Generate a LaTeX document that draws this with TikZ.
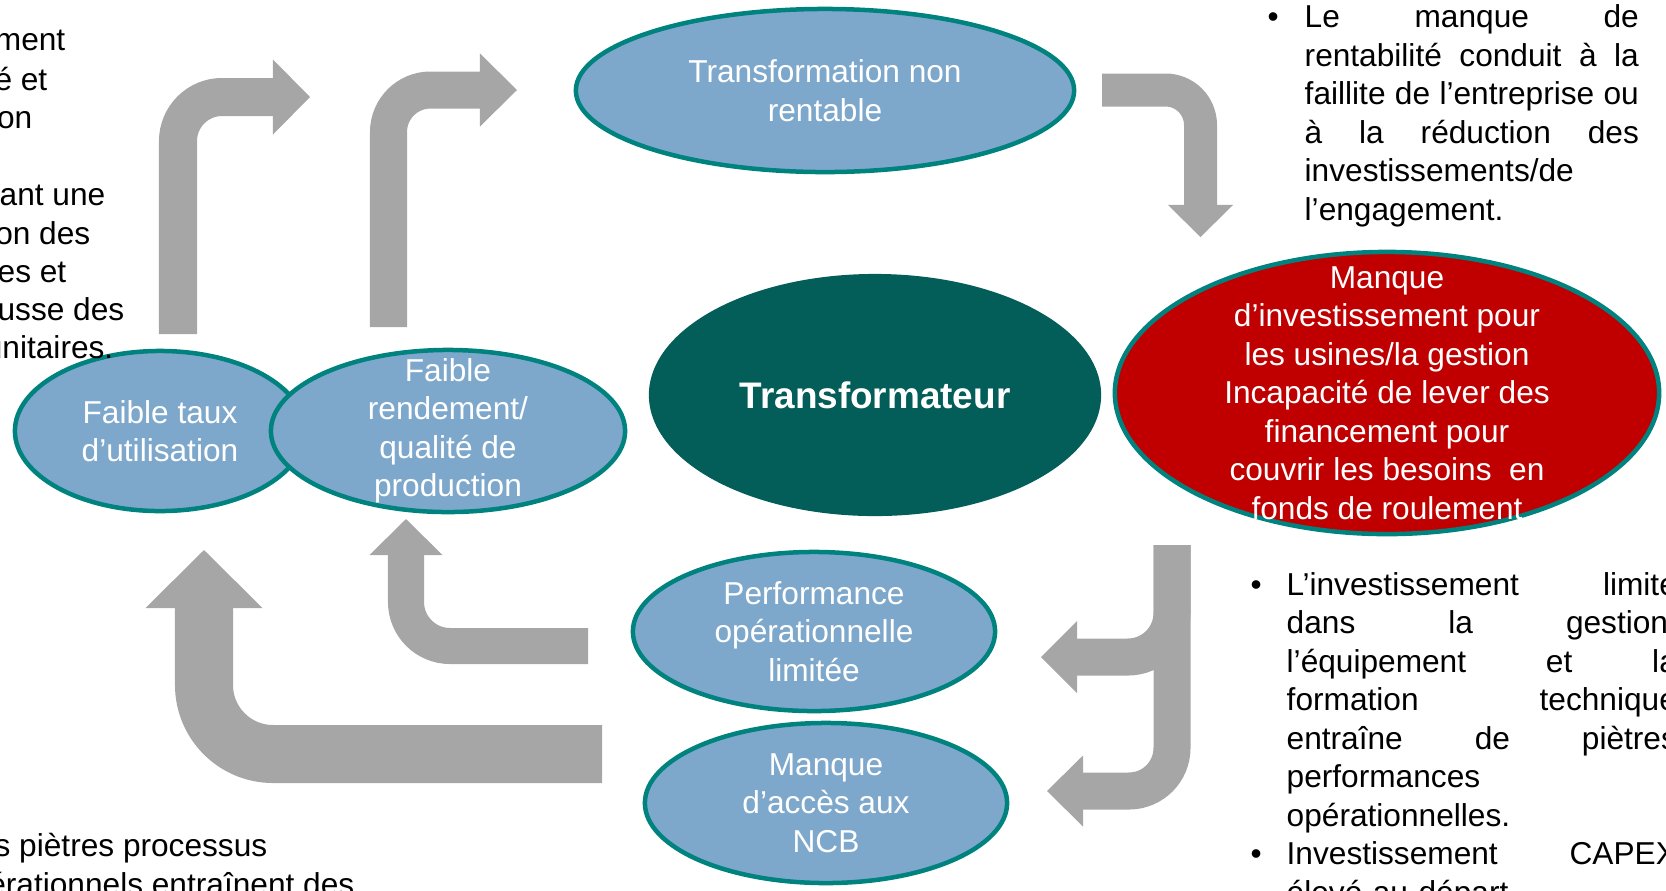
\documentclass[tikz,border=0pt]{standalone}
\usepackage{fontspec}
\setmainfont{Liberation Sans}
\usetikzlibrary{shapes.geometric,arrows.meta}

\definecolor{arrowgray}{HTML}{A6A6A6}
\definecolor{blobfill}{HTML}{7EA8CB}
\definecolor{blobline}{HTML}{00827F}
\definecolor{coreteal}{HTML}{035D59}
\definecolor{lackred}{HTML}{C00000}

% justified line: words spread with \hfill
\newcommand{\jline}[2][3.34cm]{\leavevmode\hbox to #1{#2}}
\newcommand{\bul}[1][0.26cm]{\leavevmode\llap{\textbullet\hspace{#1}}}

\begin{document}
\begin{tikzpicture}[x=0.01cm,y=-0.01cm,
  blob/.style={shape=ellipse, draw=blobline, line width=0.045cm, fill=blobfill, inner sep=0pt},
  blobtext/.style={text=white, align=center, inner sep=0pt, font=\fontsize{9}{10.95}\selectfont},
  bentarrow/.style={draw=arrowgray, line cap=butt},
  note/.style={text=black, align=left, inner sep=0pt, font=\fontsize{9}{10.95}\selectfont}]
\useasboundingbox (0,0) rectangle (1666,890);
\clip (0,0) rectangle (1666,890);

% arrow ends
\coordinate (a1s) at (178,334);  \coordinate (a1e) at (310,97);
\coordinate (a2s) at (388.5,327); \coordinate (a2e) at (517,90);
\coordinate (a3s) at (1102,90);  \coordinate (a3e) at (1200.5,237);
\coordinate (a4s) at (1172,545); \coordinate (a4u) at (1041,657); \coordinate (a4l) at (1047,791);
\coordinate (a5s) at (588,646);  \coordinate (a5e) at (406,519);
\coordinate (a6s) at (602,754);  \coordinate (a6e) at (204,550);

\draw[bentarrow, line width=0.38cm, rounded corners=0.44cm, -{Triangle[length=0.37cm,width=0.75cm,line width=0pt]}] (a1s) |- (a1e);
\draw[bentarrow, line width=0.37cm, rounded corners=0.42cm, -{Triangle[length=0.37cm,width=0.73cm,line width=0pt]}] (a2s) |- (a2e);
\draw[bentarrow, line width=0.33cm, rounded corners=0.35cm, -{Triangle[length=0.32cm,width=0.65cm,line width=0pt]}] (a3s) -| (a3e);
\draw[bentarrow, line width=0.37cm, rounded corners=0.44cm, -{Triangle[length=0.36cm,width=0.72cm,line width=0pt]}] (a4s) |- (a4u);
\draw[bentarrow, line width=0.37cm, rounded corners=0.43cm, -{Triangle[length=0.36cm,width=0.71cm,line width=0pt]}] (a4s) |- (a4l);
\draw[bentarrow, line width=0.36cm, rounded corners=0.44cm, -{Triangle[length=0.36cm,width=0.73cm,line width=0pt]}] (a5s) -| (a5e);
\draw[bentarrow, line width=0.58cm, rounded corners=0.69cm, -{Triangle[length=0.58cm,width=1.17cm,line width=0pt]}] (a6s) -| (a6e);

% ellipses
\node[blob, minimum width=2.90cm, minimum height=1.60cm] (taux) at (160,431) {};
\node[blob, minimum width=3.54cm, minimum height=1.62cm] (rend) at (448,431) {};
\node[blob, minimum width=4.98cm, minimum height=1.63cm] (nonrent) at (825,90.5) {};
\node[shape=ellipse, fill=coreteal, minimum width=4.52cm, minimum height=2.42cm, inner sep=0pt,
  text=white, font=\bfseries\fontsize{10.5}{12}\selectfont] (transf) at (875,395) {Transformateur};
\node[blob, fill=lackred, minimum width=5.44cm, minimum height=2.82cm] (invest) at (1387,393) {};
\node[blob, minimum width=3.62cm, minimum height=1.59cm] (perf) at (814,631.5) {};
\node[blob, minimum width=3.62cm, minimum height=1.60cm] (ncb) at (826,803) {};

\node[blobtext] (tauxtxt) at (taux) {Faible taux\\d’utilisation};
\node[blobtext] (rendtxt) at (rend) {Faible\\rendement/\\qualité de\\production};
\node[blobtext] (nonrenttxt) at (nonrent) {Transformation non\\rentable};
\node[blobtext] (investtxt) at (invest) {Manque\\d’investissement pour\\les usines/la gestion\\Incapacité de lever des\\financement pour\\couvrir les besoins\ \ en\\fonds de roulement};
\node[blobtext] (perftxt) at (perf) {Performance\\opérationnelle\\limitée};
\node[blobtext] (ncbtxt) at (ncb) {Manque\\d’accès aux\\NCB};

% side notes
\node[note, anchor=north west, text width=3.34cm] (rentab) at (1304,4) {\bul\jline{Le\hfill manque\hfill de}\\\jline{rentabilité\hfill conduit\hfill à\hfill la}\\\jline{faillite\hfill de\hfill l’entreprise\hfill ou}\\\jline{à\hfill la\hfill réduction\hfill des}\\investissements/de\\l’engagement.};
\node[note, anchor=north west, text width=3.90cm] (capex) at (1286,571) {\bul[0.25cm]\jline[3.90cm]{L’investissement\hfill limité}\\\jline[3.90cm]{dans\hfill la\hfill gestion,}\\\jline[3.90cm]{l’équipement\hfill et\hfill la}\\\jline[3.90cm]{formation\hfill technique}\\\jline[3.90cm]{entraîne\hfill de\hfill piètres}\\performances\\opérationnelles.\\\bul[0.25cm]\jline[3.90cm]{Investissement\hfill CAPEX}\\élevé au départ};

\foreach \yy/\xx/\frag in {39/66/ment, 79/48/é et, 117/33/on, 194/106/ant une, 233/91/on des, 271/67/es et, 309/125/usse des, 347/114/unitaires.}
  \node[note, anchor=base east] (left\yy) at (\xx,\yy+11) {\frag};
\node[note, anchor=base east] (pietres) at (268,856) {s piètres processus};
\node[note, anchor=base east] (operat) at (355,895) {érationnels entraînent des};
\end{tikzpicture}
\end{document}
